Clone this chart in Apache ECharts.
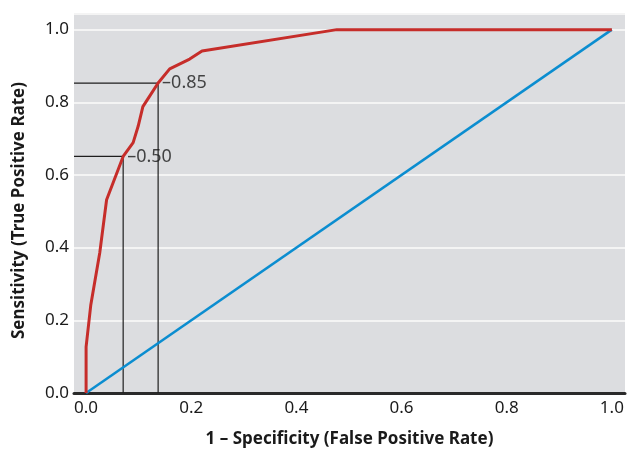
<!DOCTYPE html>
<html>
<head>
<meta charset="utf-8">
<script src="https://cdn.jsdelivr.net/npm/echarts@6/dist/echarts.min.js"></script>
<style>
  html, body { margin: 0; padding: 0; background: #fff; }
  #chart { width: 628px; height: 453px; }
</style>
</head>
<body>
<div id="chart"></div>
<script>
// ROC curve points [1 - specificity, sensitivity]
const rocX = [0, 0, 0.009, 0.026, 0.039, 0.0705, 0.0895, 0.099, 0.108, 0.120, 0.137, 0.159, 0.197, 0.2205, 0.477, 1.0]
const rocY = [0, 0.127, 0.243, 0.386, 0.532, 0.651, 0.689, 0.734, 0.788, 0.815, 0.853, 0.892, 0.919, 0.941, 1.0, 1.0]
// chance line
const diagX = [0, 1]
const diagY = [0, 1]
// marked cutoffs
const cutoffLabels = ['0.50', '0.85']
const cutoffX = [0.0705, 0.137]
const cutoffY = [0.651, 0.853]

const xMin = -0.023
const xMax = 1.025
const yMin = 0
const yMax = 1.043

const font = '"Noto Sans", sans-serif'

function tickLabel (v) {
  // only show multiples of 0.2
  return Math.abs(v * 5 - Math.round(v * 5)) < 1e-6 ? v.toFixed(1) : ''
}

function zip (xs, ys) {
  let out = []
  xs.forEach((x, i) => {
    out.push([x, ys[i]])
  })
  return out
}

let series = []
// guide lines for each cutoff
cutoffX.forEach((x, i) => {
  series.push({
    type: 'line',
    data: [[xMin, cutoffY[i]], [x, cutoffY[i]], [x, 0]],
    symbol: 'none',
    lineStyle: {color: '#1e1e1e', width: 1.2},
    silent: true
  })
})
series.push({
  type: 'line',
  data: zip(diagX, diagY),
  symbol: 'none',
  lineStyle: {color: '#0b8dd0', width: 2.5}
})
series.push({
  type: 'line',
  data: zip(rocX, rocY),
  symbol: 'none',
  lineStyle: {color: '#c62d2a', width: 3}
})
series.push({
  type: 'scatter',
  data: cutoffX.map((x, i) => [x, cutoffY[i], cutoffLabels[i]]),
  symbolSize: 0,
  label: {
    show: true,
    position: 'right',
    distance: 4,
    formatter: p => '\u2013' + p.data[2],
    color: '#1a1a1a',
    fontFamily: font,
    fontSize: 18
  }
})

const chart = echarts.init(document.getElementById('chart'))
chart.setOption({
  animation: false,
  backgroundColor: '#fff',
  grid: {
    left: 74,
    right: 0,
    top: 14,
    bottom: 53,
    show: true,
    backgroundColor: '#dcdde0',
    borderWidth: 0
  },
  xAxis: {
    type: 'value',
    min: xMin,
    max: xMax,
    splitNumber: 5,
    name: '1 \u2013 Specificity (False Positive Rate)',
    nameLocation: 'middle',
    nameGap: 38,
    nameTextStyle: {fontFamily: font, fontWeight: 'bold', fontSize: 17, color: '#1a1a1a'},
    axisLine: {lineStyle: {color: '#2a2a2a', width: 3}},
    axisTick: {show: false},
    splitLine: {show: false},
    axisLabel: {formatter: tickLabel, color: '#1a1a1a', fontFamily: font, fontSize: 17, margin: 7}
  },
  yAxis: {
    type: 'value',
    min: yMin,
    max: yMax,
    interval: 0.2,
    name: 'Sensitivity (True Positive Rate)',
    nameLocation: 'middle',
    nameGap: 46,
    nameTextStyle: {fontFamily: font, fontWeight: 'bold', fontSize: 17, color: '#1a1a1a', padding: [0, 14, 0, 0]},
    axisLine: {show: false},
    axisTick: {show: false},
    splitLine: {lineStyle: {color: '#f4f4f4', width: 2}},
    axisLabel: {formatter: tickLabel, color: '#1a1a1a', fontFamily: font, fontSize: 17, margin: 5}
  },
  series: series
})
</script>
</body>
</html>
